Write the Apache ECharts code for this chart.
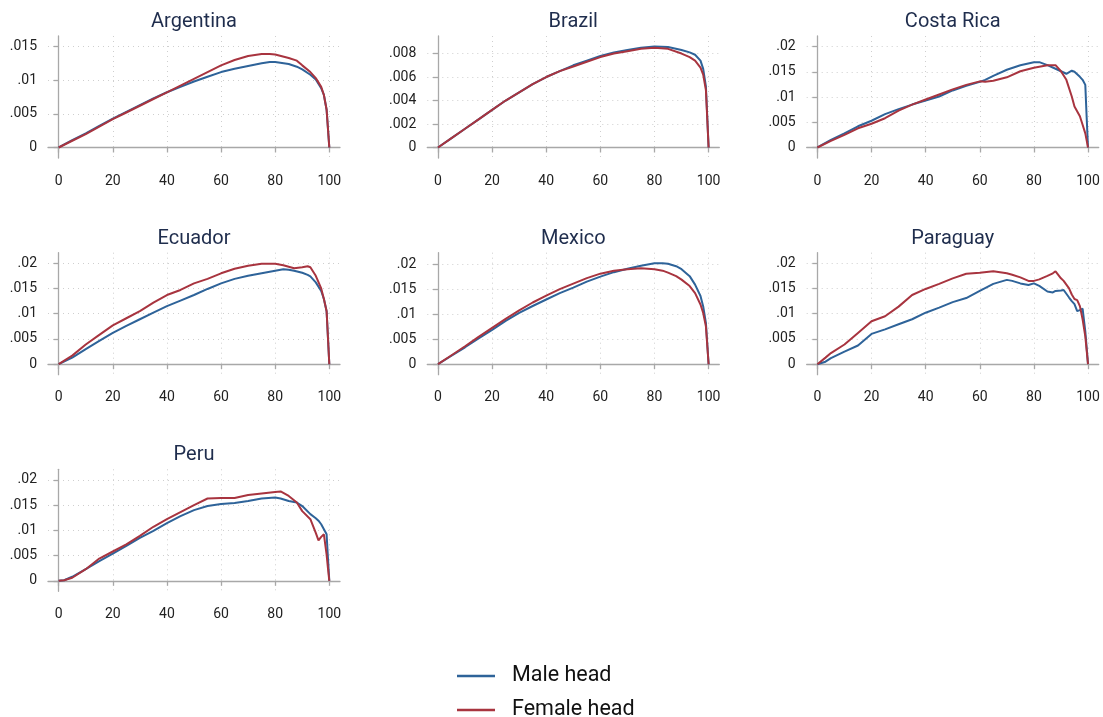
<!DOCTYPE html>
<html>
<head>
<meta charset="utf-8">
<title>Distribution by household head</title>
<script src="https://cdn.jsdelivr.net/npm/echarts@6/dist/echarts.min.js"></script>
<style>
  html, body { margin: 0; padding: 0; background: #ffffff; }
  #chart { width: 1103px; height: 717px; }
</style>
</head>
<body>
<div id="chart"></div>
<script>
// ---- data ---------------------------------------------------------------
const countries = ['Argentina', 'Brazil', 'Costa Rica', 'Ecuador', 'Mexico', 'Paraguay', 'Peru'];
const seriesNames = ['Male head', 'Female head'];
const xTicks = [0, 20, 40, 60, 80, 100];

const yTicksArgentina = [0, 0.005, 0.01, 0.015];
const yTicksBrazil = [0, 0.002, 0.004, 0.006, 0.008];
const yTicksWide = [0, 0.005, 0.01, 0.015, 0.02];

const argentinaX = [0, 5, 10, 15, 20, 25, 30, 35, 40, 45, 50, 55, 60, 65, 70, 75, 78, 80, 85, 88, 90, 93, 95, 97, 98, 99, 100];
const argentinaMale = [0, .0011, .0021, .0032, .0043, .0053, .0063, .0073, .0082, .0090, .0098, .0105, .0112, .0117, .0121, .0125, .0127, .0127, .0124, .0120, .0116, .0108, .0101, .0088, .0078, .0056, 0];
const argentinaFemale = [0, .0010, .0020, .0031, .0042, .0052, .0062, .0072, .0082, .0092, .0102, .0112, .0122, .0130, .0136, .0139, .0139, .0138, .0133, .0129, .0122, .0112, .0103, .0090, .0078, .0056, 0];

const brazilX = [0, 5, 10, 15, 20, 25, 30, 35, 40, 45, 50, 55, 60, 65, 70, 75, 80, 85, 90, 93, 95, 97, 98, 99, 100];
const brazilMale = [0, .0008, .0016, .0024, .0032, .0040, .0047, .0054, .0060, .0065, .0070, .0074, .0078, .0081, .0083, .0085, .0086, .00855, .0083, .0081, .0079, .0074, .0067, .0052, 0];
const brazilFemale = [0, .0008, .0016, .0024, .0032, .0040, .0047, .0054, .0060, .0065, .0069, .0073, .0077, .0080, .0082, .0084, .0085, .0084, .0080, .0077, .0074, .0068, .0062, .0049, 0];

const costaRicaX = [0, 5, 10, 15, 20, 25, 30, 35, 40, 45, 50, 55, 60, 62, 65, 70, 75, 80, 82, 85, 88, 90, 92, 94, 95, 97, 98, 99, 99.5, 100];
const costaRicaMale = [0, .0015, .0028, .0042, .0053, .0066, .0076, .0085, .0093, .0101, .0113, .0122, .0130, .0134, .0142, .0154, .0163, .0169, .0169, .0163, .0156, .0151, .0146, .0152, .0150, .0140, .0134, .0124, .0060, 0];
const costaRicaFemale = [0, .0013, .0025, .0038, .0047, .0058, .0073, .0085, .0095, .0105, .0115, .0124, .0131, .0130, .0132, .0139, .0151, .0158, .0160, .0163, .0163, .0151, .0134, .0101, .0081, .0062, .0045, .0028, .0014, 0];

const ecuadorX = [0, 5, 10, 15, 20, 25, 30, 35, 40, 45, 50, 55, 60, 65, 70, 75, 80, 83, 85, 87, 90, 92, 93, 95, 97, 98, 99, 100];
const ecuadorMale = [0, .0013, .0030, .0046, .0062, .0076, .0089, .0102, .0115, .0126, .0137, .0149, .0160, .0169, .0175, .0180, .0185, .0188, .0187, .0185, .0181, .0177, .0174, .0162, .0145, .0129, .0105, 0];
const ecuadorFemale = [0, .0017, .0039, .0058, .0077, .0091, .0105, .0122, .0137, .0147, .0160, .0169, .0180, .0189, .0195, .0199, .0199, .0196, .0193, .0190, .0192, .0194, .0192, .0175, .0150, .0129, .0105, 0];

const mexicoX = [0, 5, 10, 15, 20, 25, 30, 35, 40, 45, 50, 55, 60, 65, 70, 75, 80, 83, 85, 88, 90, 93, 95, 97, 98, 99, 100];
const mexicoMale = [0, .0017, .0034, .0052, .0069, .0087, .0103, .0117, .0130, .0143, .0154, .0166, .0176, .0185, .0192, .0198, .0203, .0203, .0202, .0197, .0191, .0177, .0160, .0137, .0116, .0083, 0];
const mexicoFemale = [0, .0018, .0036, .0055, .0073, .0091, .0108, .0124, .0138, .0151, .0162, .0173, .0182, .0188, .0191, .0193, .0191, .0188, .0184, .0177, .0170, .0157, .0143, .0120, .0103, .0076, 0];

const paraguayX = [0, 3, 5, 10, 15, 20, 25, 30, 35, 40, 45, 50, 55, 60, 65, 70, 72, 75, 78, 80, 82, 85, 87, 88, 90, 91, 93, 94, 95, 96, 97, 98, 99, 100];
const paraguayMale = [0, .0005, .0012, .0025, .0037, .0060, .0069, .0079, .0089, .0102, .0112, .0123, .0131, .0145, .0159, .0167, .0165, .0160, .0157, .0160, .0155, .0144, .0142, .0145, .0146, .0147, .0132, .0125, .0119, .0105, .0107, .0110, .0065, 0];
const paraguayFemale = [0, .0013, .0022, .0039, .0062, .0085, .0095, .0114, .0137, .0149, .0159, .0170, .0179, .0181, .0184, .0180, .0177, .0172, .0165, .0165, .0168, .0175, .0180, .0184, .0170, .0165, .0150, .0138, .0129, .0127, .0115, .0089, .0055, 0];

const peruX = [0, 2, 5, 10, 15, 20, 25, 30, 35, 40, 45, 50, 55, 60, 65, 70, 75, 80, 82, 85, 88, 90, 93, 95, 96, 97, 98, 99, 99.5, 100];
const peruMale = [0, .0001, .0008, .0023, .0039, .0054, .0069, .0085, .0099, .0114, .0128, .0140, .0148, .0152, .0154, .0158, .0163, .0165, .0163, .0158, .0155, .0148, .0132, .0124, .0119, .0112, .0102, .0092, .0045, 0];
const peruFemale = [0, .0001, .0006, .0023, .0044, .0058, .0072, .0089, .0107, .0122, .0136, .0150, .0163, .0164, .0164, .0170, .0173, .0176, .0177, .0168, .0155, .0138, .0122, .0095, .0080, .0087, .0092, .0052, .0025, 0];

// ---- panel setup ----------------------------------------------------------
const panelData = [
  [argentinaX, argentinaMale, argentinaFemale, yTicksArgentina],
  [brazilX, brazilMale, brazilFemale, yTicksBrazil],
  [costaRicaX, costaRicaMale, costaRicaFemale, yTicksWide],
  [ecuadorX, ecuadorMale, ecuadorFemale, yTicksWide],
  [mexicoX, mexicoMale, mexicoFemale, yTicksWide],
  [paraguayX, paraguayMale, paraguayFemale, yTicksWide],
  [peruX, peruMale, peruFemale, yTicksWide]
];

const colLeft = [48, 427.3, 806.7];
const rowTop = [36, 252.7, 469.3];
const plotW = 292, plotH = 122;
const xPad = 0.0395;   // plot-region margin as share of the x range
const yPad = 0.104;    // plot-region margin as share of the y range

const maleColor = '#2e6399';
const femaleColor = '#a8343f';
const axisGray = '#a8a8a8';
const font = 'Roboto';

function tickText(v) {
  if (v === 0) return '0';
  return String(+v.toFixed(4)).replace(/^0\./, '.');
}

const grids = [], xAxes = [], yAxes = [], series = [], graphics = [];

countries.forEach((name, i) => {
  const [xs, male, female, yTicks] = panelData[i];
  const col = i % 3, row = Math.floor(i / 3);
  const left = colLeft[col], top = rowTop[row];
  grids.push({ left: left, top: top, width: plotW, height: plotH, containLabel: false });

  const yTop = Math.max(yTicks[yTicks.length - 1], Math.max(...male), Math.max(...female));

  xAxes.push({
    type: 'value', gridIndex: i,
    min: -100 * xPad, max: 100 * (1 + xPad),
    axisLine: { show: true, lineStyle: { color: axisGray, width: 1.3 } },
    axisTick: { show: true, length: 5, customValues: xTicks, lineStyle: { color: axisGray, width: 1.3 } },
    axisLabel: { customValues: xTicks, margin: 16, fontFamily: font, fontSize: 14, color: '#222', formatter: tickText },
    splitLine: { show: true, lineStyle: { color: '#cfcfcf', type: [1, 4], width: 1 } }
  });
  yAxes.push({
    type: 'value', gridIndex: i,
    min: -yTop * yPad, max: yTop * (1 + yPad),
    axisLine: { show: true, lineStyle: { color: axisGray, width: 1.3 } },
    axisTick: { show: true, length: 5, customValues: yTicks, lineStyle: { color: axisGray, width: 1.3 } },
    axisLabel: { customValues: yTicks, margin: 11, fontFamily: font, fontSize: 14, color: '#222', formatter: tickText },
    splitLine: { show: true, lineStyle: { color: '#cfcfcf', type: [1, 4], width: 1 } }
  });

  [[male, seriesNames[0], maleColor], [female, seriesNames[1], femaleColor]].forEach(([vals, sName, color]) => {
    series.push({
      type: 'line', name: sName, xAxisIndex: i, yAxisIndex: i,
      data: xs.map((x, k) => [x, vals[k]]),
      symbol: 'none', smooth: false,
      lineStyle: { color: color, width: 2 }, itemStyle: { color: color },
      emphasis: { disabled: true }, silent: true, animation: false
    });
  });

  graphics.push({
    type: 'text', x: left + plotW / 2, y: top - 14,
    style: { text: name, font: '20px ' + font, fill: '#1f2d4d', textAlign: 'center', textVerticalAlign: 'middle' }
  });
});

// one legend block per entry, stacked vertically below the panels
function legendBlock(entry, top) {
  return {
    data: [{ name: entry, icon: 'rect' }],
    left: 457, top: top, padding: 0,
    itemWidth: 38, itemHeight: 2.5,
    textStyle: { fontFamily: font, fontSize: 21.5, color: '#111', padding: [0, 0, 0, 12] },
    selectedMode: false
  };
}

const chart = echarts.init(document.getElementById('chart'), null, { renderer: 'canvas' });
chart.setOption({
  backgroundColor: '#ffffff',
  animation: false,
  grid: grids,
  xAxis: xAxes,
  yAxis: yAxes,
  series: series,
  graphic: graphics,
  legend: [legendBlock(seriesNames[0], 665), legendBlock(seriesNames[1], 699)]
});
</script>
</body>
</html>
